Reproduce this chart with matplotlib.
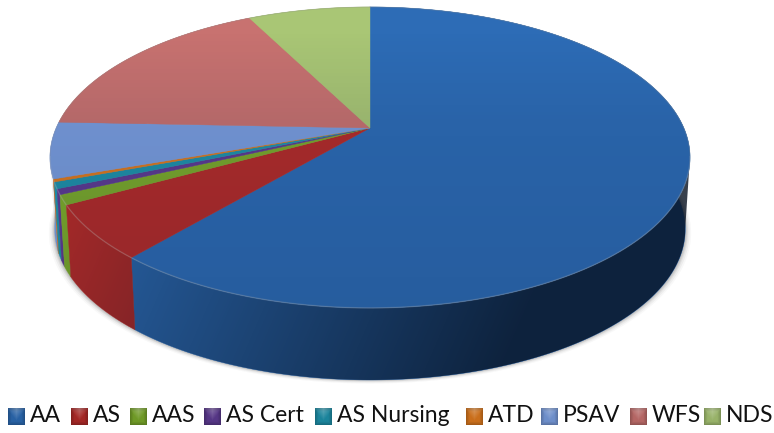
import numpy as np
import matplotlib
matplotlib.use('Agg')
import matplotlib.pyplot as plt
from matplotlib.patches import Polygon
from matplotlib.colors import to_rgb

labels = ['AA', 'AS', 'AAS', 'AS Cert', 'AS Nursing', 'ATD', 'PSAV', 'WFS', 'NDS']
values = [61.2, 5.8, 1.05, 0.6, 0.7, 0.3, 6.0, 16.9, 7.45]
colors = ['#2d6cb6', '#b52c2a', '#7cab2c', '#5f3c94', '#1f93ad', '#e07b1f', '#7a9ee0', '#c87270', '#a9c675']

# legend layout, pixels
legend_x = [8, 71, 130, 204, 315, 466, 541, 630, 704]

# pie geometry in pixels
cx, cy = 370, 128
a, b, k = 144.7, 313.8, 0.196
depth = 72
low_scale = 0.985

plt.rcParams['font.family'] = ['Lato', 'DejaVu Sans']


# circle angle (clockwise from the back) to screen position with perspective
def project(theta):
    u, v = np.sin(theta), np.cos(theta)
    w = 1 + k * v
    return cx + b * u / w, cy - a * v / w


def outline(t0, t1):
    n = max(int((t1 - t0) * 120), 3)
    return project(np.linspace(t0, t1, n))


def lower(x, y):
    return cx + (x - cx) * low_scale, y + depth


fig = plt.figure(figsize=(7.74, 4.33), dpi=100)
ax = fig.add_axes([0, 0, 1, 1])

edges = np.cumsum([0] + values) / sum(values) * 2 * np.pi
full_x, full_y = outline(0, 2 * np.pi)
low_x, low_y = lower(full_x, full_y)

# soft shadow below the body
for grow, al in zip([6, 4.5, 3, 2, 1], [0.03, 0.05, 0.07, 0.09, 0.12]):
    sx = cx + (low_x - cx) * (1 + grow / 320)
    ax.add_patch(Polygon(np.c_[sx, low_y + grow * 0.6], fc='#303030', ec='none', alpha=al, zorder=1))

# side walls, back ones first
order = sorted(range(len(values)), key=lambda i: np.cos((edges[i] + edges[i + 1]) / 2), reverse=True)
for i in order:
    x, y = outline(edges[i], edges[i + 1])
    lx, ly = lower(x, y)
    pts = np.r_[np.c_[x, y], np.c_[lx, ly][::-1]]
    ax.add_patch(Polygon(pts, fc=colors[i], ec=colors[i], lw=0.3, zorder=2))

# shading of the side, darker to the right and to the bottom
yy, xx = np.mgrid[0:433, 0:774]
side_img = np.zeros((433, 774, 4))
side_img[..., :3] = np.array(to_rgb('#06101f'))
side_img[..., 3] = np.clip(0.18 + 0.62 * (xx - 100) / 450 + 0.06 * (yy - 250) / 100, 0.05, 0.8)
front_x, front_y = outline(np.radians(101), np.radians(259))
fl_x, fl_y = lower(front_x, front_y)
body = np.r_[np.c_[front_x, front_y], np.c_[fl_x, fl_y][::-1]]
im = ax.imshow(side_img, extent=(0, 774, 433, 0), aspect='auto', zorder=3, interpolation='bilinear')
im.set_clip_path(Polygon(body, transform=ax.transData))

# top face
for i in range(len(values)):
    x, y = outline(edges[i], edges[i + 1])
    pts = np.r_[[[cx, cy]], np.c_[x, y]]
    ax.add_patch(Polygon(pts, fc=colors[i], ec=colors[i], lw=0.3, zorder=4))

top_img = np.zeros((433, 774, 4))
top_img[..., :3] = np.array([0.03, 0.08, 0.18])
top_img[..., 3] = 0.1 * np.clip((yy - 30) / 90, 0, 1) + 0.07 * np.clip((yy - 120) / 180, 0, 1)
im2 = ax.imshow(top_img, extent=(0, 774, 433, 0), aspect='auto', zorder=5, interpolation='bilinear')
im2.set_clip_path(Polygon(np.c_[full_x, full_y], transform=ax.transData))

# thin grey line round the back, light rim along the front edge
ax.plot(full_x, full_y, color='#8a8a8a', alpha=0.3, lw=0.7, zorder=6)
ax.plot(front_x, front_y, color='white', alpha=0.08, lw=1.2, zorder=6)

# legend
sy, sx = np.mgrid[0:1:17j, 0:1:17j]
glow = np.clip(1 - sy * 1.3 - np.abs(sx - 0.5) * 1.6, 0, 1)
rim = np.clip(np.maximum(np.abs(sx - 0.5), np.abs(sy - 0.5)) * 2 - 0.6, 0, 1)
for name, col, lx in zip(labels, colors, legend_x):
    base = np.array(to_rgb(col))
    rgb = base[None, None, :] * (1 - 0.45 * rim[..., None]) * 0.9
    rgb = rgb + (1 - rgb) * 0.3 * glow[..., None]
    ax.imshow(rgb, extent=(lx, lx + 17, 425, 408), aspect='auto', zorder=7)
    ax.text(lx + 22, 416, name, fontsize=16.5, color='#111111', va='center', ha='left', zorder=8)

ax.set_xlim(0, 774)
ax.set_ylim(433, 0)
ax.axis('off')

fig.savefig('out.png', dpi=100)
